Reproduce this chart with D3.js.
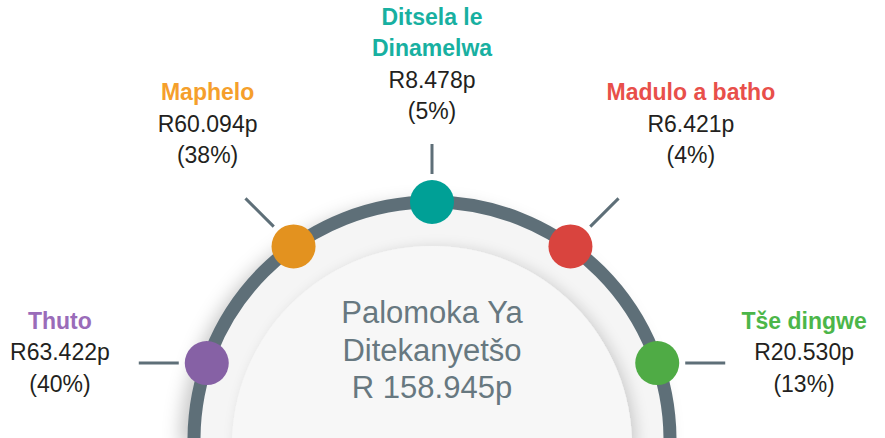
<!DOCTYPE html>
<html>
<head>
<meta charset="utf-8">
<script src="https://cdn.jsdelivr.net/npm/d3@7"></script>
<style>
  html, body { margin: 0; padding: 0; background: #fff; }
  svg { display: block; font-family: "Liberation Sans", Arial, sans-serif; }
</style>
</head>
<body>
<div id="chart"></div>
<script>
// Budget split (values in R billions)
const categories = ["Thuto", "Maphelo", "Ditsela le Dinamelwa", "Madulo a batho", "Tše dingwe"];
const nameLines = [["Thuto"], ["Maphelo"], ["Ditsela le", "Dinamelwa"], ["Madulo a batho"], ["Tše dingwe"]];
const values = [63.422, 60.094, 8.478, 6.421, 20.530];
const shares = [40, 38, 5, 4, 13];
const dotColors = ["#8661a5", "#e3921f", "#00a096", "#d9443e", "#4fab45"];
const nameColors = ["#9a6cb9", "#f59f2c", "#18b0a1", "#e84f4a", "#4cb649"];
const totalLines = ["Palomoka Ya", "Ditekanyetšo"];
const totalValue = 158.945;

const width = 885, height = 438;
const cx = 432, cy = 440, r = 238, dotR = 22;
const arcColor = "#5e6f78";

const svg = d3.select("#chart").append("svg")
    .attr("width", width)
    .attr("height", height);

const defs = svg.append("defs");

const outerShadow = defs.append("filter").attr("id", "outerShadow")
    .attr("x", "-20%").attr("y", "-20%").attr("width", "140%").attr("height", "140%");
outerShadow.append("feDropShadow")
    .attr("dx", -9).attr("dy", 6).attr("stdDeviation", 9)
    .attr("flood-color", "#000").attr("flood-opacity", 0.22);

const innerShadow = defs.append("filter").attr("id", "innerShadow")
    .attr("x", "-20%").attr("y", "-20%").attr("width", "140%").attr("height", "140%");
innerShadow.append("feDropShadow")
    .attr("dx", 5).attr("dy", 2).attr("stdDeviation", 7)
    .attr("flood-color", "#000").attr("flood-opacity", 0.16);

const ringGrad = defs.append("radialGradient").attr("id", "ringGrad")
    .attr("gradientUnits", "userSpaceOnUse")
    .attr("cx", cx).attr("cy", cy).attr("r", r);
ringGrad.append("stop").attr("offset", "0.82").attr("stop-color", "#e6e6e6");
ringGrad.append("stop").attr("offset", "1").attr("stop-color", "#f5f5f5");

const discGrad = defs.append("radialGradient").attr("id", "discGrad")
    .attr("gradientUnits", "userSpaceOnUse")
    .attr("cx", cx).attr("cy", cy).attr("r", 200);
discGrad.append("stop").attr("offset", "0.85").attr("stop-color", "#ffffff");
discGrad.append("stop").attr("offset", "1").attr("stop-color", "#f7f7f7");

const half = d3.arc().startAngle(-Math.PI / 2).endAngle(Math.PI / 2);
const g = svg.append("g").attr("transform", `translate(${cx},${cy})`);

// backdrop with soft shadow
g.append("path")
    .attr("d", half({innerRadius: 0, outerRadius: r + 5}))
    .attr("fill", "#ffffff")
    .attr("filter", "url(#outerShadow)");
g.append("path")
    .attr("d", half({innerRadius: 0, outerRadius: r}))
    .attr("fill", "url(#ringGrad)");
g.append("path")
    .attr("d", half({innerRadius: 0, outerRadius: 200}))
    .attr("transform", "translate(0,6)")
    .attr("fill", "url(#discGrad)")
    .attr("filter", "url(#innerShadow)");

// the arc itself
g.append("path")
    .attr("d", d3.arc()({innerRadius: r, outerRadius: r, startAngle: -Math.PI / 2, endAngle: Math.PI / 2}))
    .attr("fill", "none")
    .attr("stroke", arcColor)
    .attr("stroke-width", 13);

// angle of each item along the half circle
const angle = d3.scalePoint()
    .domain(categories)
    .range([-90, 90])
    .padding(0.53);

const fmt = d3.format(".3f");

const items = categories.map((c, i) => {
  const a = angle(c) * Math.PI / 180;
  const x = r * Math.sin(a), y = -r * Math.cos(a);
  // connector direction snapped to 45 degrees
  const snap = Math.round(angle(c) / 45) * 45 * Math.PI / 180;
  const dx = Math.sin(snap), dy = -Math.cos(snap);
  const len = Math.abs(dx) < 0.01 ? 30 : 40;
  const x1 = x + dx * (dotR + 6), y1 = y + dy * (dotR + 6);
  const x2 = x1 + dx * len, y2 = y1 + dy * len;
  return {c, i, x, y, dx, dy, x1, y1, x2, y2};
});

g.selectAll(".connector")
    .data(items)
    .join("line")
    .attr("class", "connector")
    .attr("x1", d => d.x1).attr("y1", d => d.y1)
    .attr("x2", d => d.x2).attr("y2", d => d.y2)
    .attr("stroke", arcColor)
    .attr("stroke-width", 3);

g.selectAll(".dot")
    .data(items)
    .join("circle")
    .attr("class", "dot")
    .attr("cx", d => d.x)
    .attr("cy", d => d.y)
    .attr("r", dotR)
    .attr("fill", d => dotColors[d.i]);

// labels
const lineH = 31.5, fs = 23;
const measure = g.append("text").attr("font-size", fs).attr("visibility", "hidden");
const textWidth = (t, bold) => measure.attr("font-weight", bold ? "bold" : "normal")
    .text(t).node().getComputedTextLength();

items.forEach(d => {
  const valueText = "R" + fmt(values[d.i]) + "p";
  const lines = nameLines[d.i].map(t => ({t, name: true}))
      .concat([{t: valueText}, {t: "(" + shares[d.i] + "%)"}]);
  const vw = textWidth(valueText, false);
  const maxW = d3.max(lines, l => textWidth(l.t, l.name));
  const side = Math.sign(d.dx);
  let lx, firstBase;
  if (Math.abs(d.dy) < 0.01) {
    // beside the connector
    lx = d.x2 + side * (29 + vw / 2);
    firstBase = d.y2 - 3 - lineH;
  } else if (Math.abs(d.dx) < 0.01) {
    // straight above
    lx = d.x2;
    firstBase = d.y2 - 25 - (lines.length - 1) * lineH;
  } else {
    // above the diagonal connector
    lx = d.x2 + side * (maxW / 2 - 12);
    firstBase = d.y2 - 35 - (lines.length - 1) * lineH;
  }
  g.append("text")
      .attr("text-anchor", "middle")
      .attr("font-size", fs)
      .selectAll("tspan")
      .data(lines)
      .join("tspan")
      .attr("x", lx)
      .attr("y", (l, k) => firstBase + k * lineH)
      .attr("font-weight", l => l.name ? "bold" : "normal")
      .attr("fill", l => l.name ? nameColors[d.i] : "#231f20")
      .text(l => l.t);
});
measure.remove();

// total in the middle
g.append("text")
    .attr("text-anchor", "middle")
    .attr("font-size", 31)
    .attr("fill", "#677880")
    .selectAll("tspan")
    .data(totalLines.concat(["R " + fmt(totalValue) + "p"]))
    .join("tspan")
    .attr("x", 0)
    .attr("y", (t, k) => -117 + k * 37.5)
    .text(t => t);
</script>
</body>
</html>
